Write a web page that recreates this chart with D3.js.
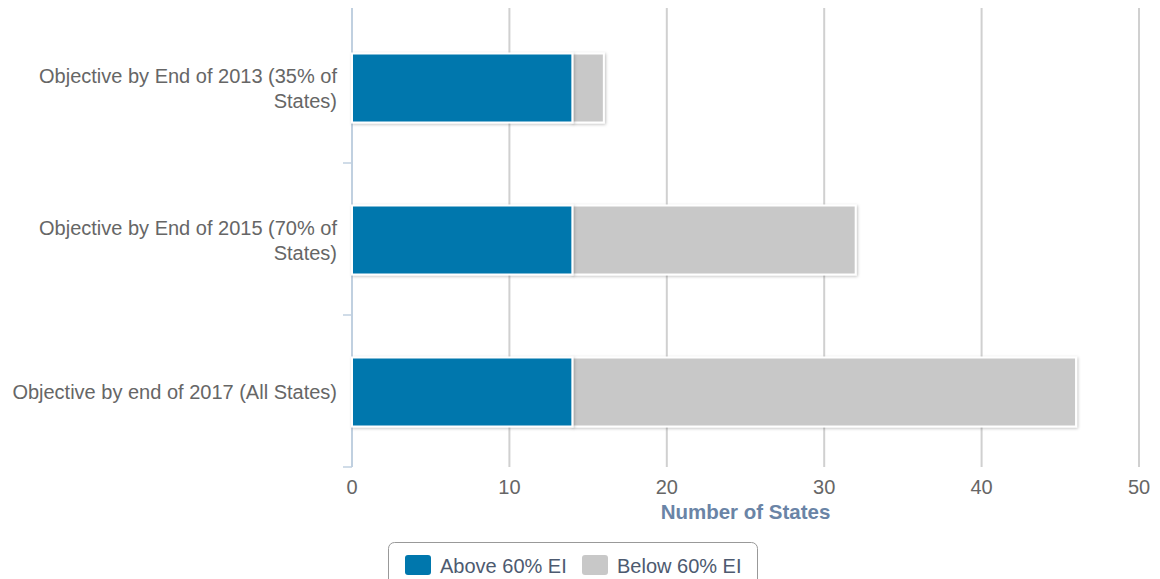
<!DOCTYPE html>
<html><head><meta charset="utf-8">
<script src="https://cdnjs.cloudflare.com/ajax/libs/d3/7.8.5/d3.min.js"></script>
<style>body{margin:0;background:#fff;}svg{display:block;font-family:"Liberation Sans",Arial,sans-serif;}</style>
</head><body>
<script>
const categories = [
  ["Objective by End of 2013 (35% of", "States)"],
  ["Objective by End of 2015 (70% of", "States)"],
  ["Objective by end of 2017 (All States)"]
];
const seriesNames = ["Above 60% EI", "Below 60% EI"];
const aboveValues = [14, 14, 14];
const belowValues = [2, 18, 32];
const xTicks = [0, 10, 20, 30, 40, 50];
const colors = ["#0077ad", "#c8c8c8"];

(function(){
const W = 1160, H = 579;
const svg = d3.select("body").append("svg").attr("width", W).attr("height", H);
const defs = svg.append("defs");
const f = defs.append("filter").attr("id","sh").attr("x","-10%").attr("y","-10%").attr("width","130%").attr("height","130%");
f.append("feDropShadow").attr("dx",1).attr("dy",1).attr("stdDeviation",1.5).attr("flood-color","#000").attr("flood-opacity",0.25);

const pL = 352, pR = 1139, gT = 8, pT = 11, pB = 467;
const x = d3.scaleLinear().domain([0, 50]).range([pL, pR]);
const y = d3.scaleBand().domain(d3.range(categories.length)).range([pT, pB]).paddingInner(0).paddingOuter(0);

// grid
svg.append("g").selectAll("line").data(xTicks.slice(1)).join("line")
  .attr("x1", d => x(d)).attr("x2", d => x(d)).attr("y1", gT).attr("y2", pB)
  .attr("stroke", "#d0d0d0").attr("stroke-width", 2);

// y axis line and ticks
const ya = svg.append("g");
ya.append("line").attr("x1", pL).attr("x2", pL).attr("y1", gT).attr("y2", pB).attr("stroke", "#c0d0e0").attr("stroke-width", 2);
const bounds = d3.range(1, categories.length).map(i => y(i)).concat([pB]);
ya.selectAll("line.t").data(bounds).join("line").attr("class","t")
  .attr("x1", pL - 9).attr("x2", pL).attr("y1", d => d).attr("y2", d => d)
  .attr("stroke", "#c0d0e0").attr("stroke-width", 1.5);

// bars
const stack = categories.map((c, i) => [
  {s: 0, x0: 0, x1: aboveValues[i], i},
  {s: 1, x0: aboveValues[i], x1: aboveValues[i] + belowValues[i], i}
]);
const barH = 69;
const gb = svg.append("g");
stack.flat().slice().sort((a,b)=>b.s-a.s).forEach(d => {
  gb.append("rect")
    .attr("x", x(d.x0)).attr("y", y(d.i) + y.bandwidth()/2 - barH/2 + 1)
    .attr("width", x(d.x1) - x(d.x0)).attr("height", barH)
    .attr("fill", colors[d.s]).attr("stroke", "#fff").attr("stroke-width", 2)
    .attr("filter", "url(#sh)");
});

// category labels
const gl = svg.append("g");
categories.forEach((lines, i) => {
  const cy = y(i) + y.bandwidth()/2;
  const lh = 25;
  const t = gl.append("text").attr("text-anchor", "end").attr("fill", "#666").attr("font-size", 20);
  lines.forEach((ln, k) => {
    t.append("tspan").attr("x", 337)
      .attr("y", cy + (k - (lines.length - 1)/2) * lh + 8).text(ln);
  });
});

// x tick labels
svg.append("g").selectAll("text").data(xTicks).join("text")
  .attr("x", d => x(d)).attr("y", 494).attr("text-anchor", "middle")
  .attr("fill", "#666").attr("font-size", 20).text(d => d);

svg.append("text").attr("x", (pL + pR)/2).attr("y", 519).attr("text-anchor", "middle")
  .attr("fill", "#6a84a6").attr("font-weight", "bold").attr("font-size", 20.5).text("Number of States");

// legend
const lg = svg.append("g");
lg.append("rect").attr("x", 388.5).attr("y", 542.5).attr("width", 369).attr("height", 50).attr("rx", 6)
  .attr("fill", "#fff").attr("stroke", "#999");
const items = [{x: 405, tx: 440}, {x: 582, tx: 617}];
seriesNames.forEach((n, i) => {
  lg.append("rect").attr("x", items[i].x).attr("y", 555).attr("width", 26).attr("height", 20).attr("rx", 3).attr("fill", colors[i]);
  lg.append("text").attr("x", items[i].tx).attr("y", 573).attr("fill", "#4d5a70").attr("font-size", 20).text(n);
});
})();
</script>
</body></html>
